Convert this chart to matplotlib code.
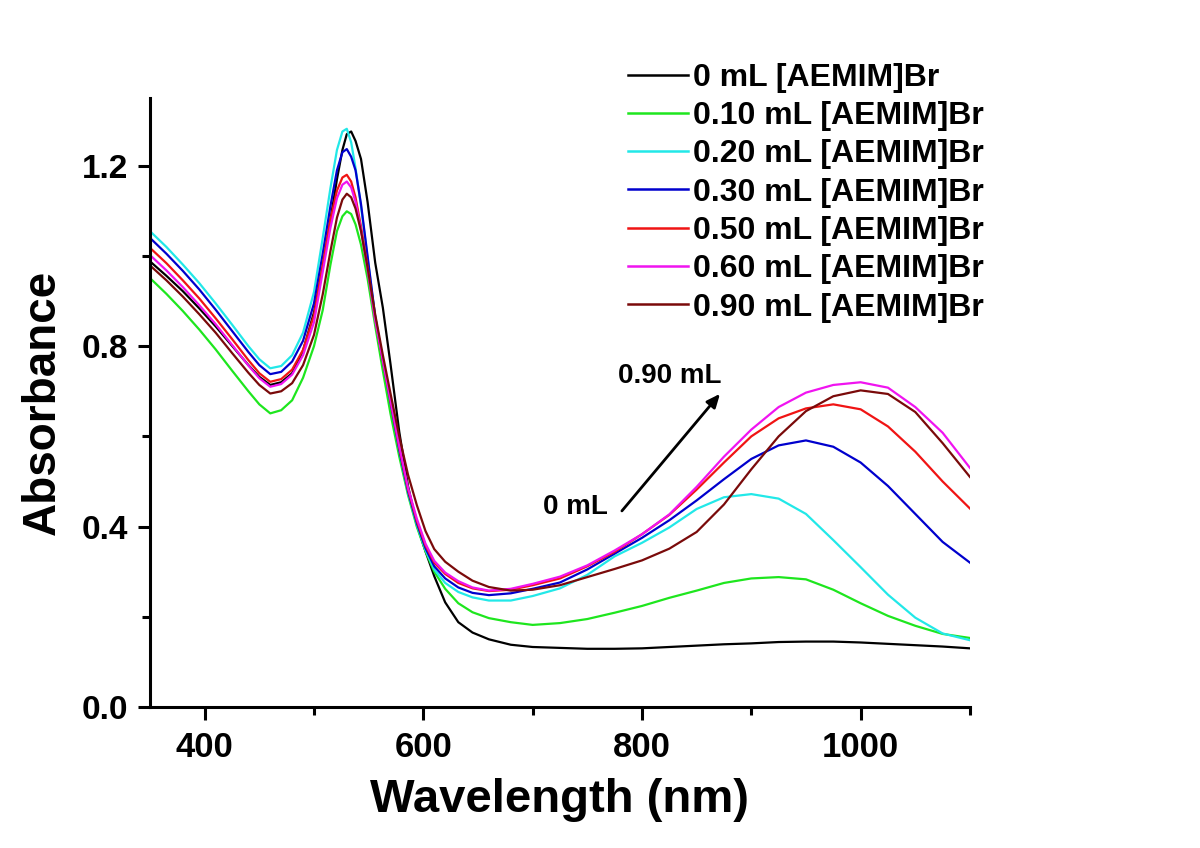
import matplotlib
matplotlib.use("Agg")
import matplotlib.pyplot as plt

# wavelength grid (nm) and absorbance
wl = [350, 365, 380, 395, 410, 425, 440, 450, 460, 470, 480, 490, 500, 508, 515,
      521, 526, 530, 534, 538, 543, 549, 556, 563, 570, 578, 586, 594, 602, 610,
      620, 632, 645, 660, 680, 700, 725, 750, 775, 800, 825, 850, 875, 900, 925,
      950, 975, 1000, 1025, 1050, 1075, 1100]

a_000 = [0.988, 0.956, 0.922, 0.884, 0.844, 0.801, 0.758, 0.732, 0.714, 0.720,
         0.740, 0.790, 0.875, 0.975, 1.080, 1.170, 1.235, 1.270, 1.276, 1.255,
         1.215, 1.120, 0.985, 0.885, 0.760, 0.610, 0.490, 0.405, 0.345, 0.290,
         0.232, 0.188, 0.165, 0.150, 0.138, 0.133, 0.131, 0.129, 0.129, 0.130,
         0.133, 0.136, 0.139, 0.141, 0.144, 0.145, 0.145, 0.143, 0.140, 0.137,
         0.134, 0.130]
a_010 = [0.951, 0.916, 0.878, 0.837, 0.793, 0.746, 0.700, 0.671, 0.651, 0.658,
         0.680, 0.730, 0.800, 0.880, 0.980, 1.055, 1.088, 1.099, 1.093, 1.070,
         1.025, 0.950, 0.845, 0.745, 0.650, 0.555, 0.470, 0.400, 0.345, 0.300,
         0.262, 0.230, 0.210, 0.197, 0.188, 0.182, 0.186, 0.195, 0.209, 0.224,
         0.242, 0.258, 0.275, 0.285, 0.288, 0.283, 0.260, 0.230, 0.202, 0.180,
         0.162, 0.153]
a_020 = [1.055, 1.020, 0.981, 0.940, 0.895, 0.848, 0.800, 0.771, 0.751, 0.756,
         0.780, 0.830, 0.920, 1.040, 1.150, 1.235, 1.276, 1.282, 1.252, 1.195,
         1.110, 0.995, 0.865, 0.770, 0.675, 0.570, 0.475, 0.405, 0.348, 0.305,
         0.275, 0.255, 0.243, 0.236, 0.236, 0.246, 0.263, 0.293, 0.334, 0.364,
         0.398, 0.439, 0.465, 0.472, 0.462, 0.428, 0.370, 0.310, 0.249, 0.198,
         0.163, 0.148]
a_030 = [1.040, 1.005, 0.967, 0.926, 0.881, 0.834, 0.787, 0.758, 0.738, 0.743,
         0.766, 0.812, 0.895, 1.005, 1.110, 1.190, 1.230, 1.237, 1.220, 1.190,
         1.115, 1.000, 0.865, 0.768, 0.675, 0.570, 0.478, 0.408, 0.352, 0.312,
         0.285, 0.265, 0.253, 0.248, 0.252, 0.262, 0.276, 0.305, 0.340, 0.375,
         0.414, 0.458, 0.505, 0.550, 0.580, 0.591, 0.577, 0.542, 0.490, 0.428,
         0.366, 0.320]
a_050 = [1.018, 0.984, 0.946, 0.906, 0.862, 0.816, 0.769, 0.740, 0.721, 0.727,
         0.748, 0.792, 0.868, 0.980, 1.080, 1.145, 1.174, 1.180, 1.165, 1.130,
         1.065, 0.975, 0.860, 0.768, 0.678, 0.575, 0.482, 0.413, 0.358, 0.320,
         0.295, 0.275, 0.263, 0.257, 0.260, 0.270, 0.285, 0.312, 0.344, 0.383,
         0.426, 0.482, 0.542, 0.600, 0.640, 0.662, 0.671, 0.660, 0.622, 0.566,
         0.500, 0.440]
a_060 = [1.002, 0.968, 0.931, 0.891, 0.849, 0.803, 0.757, 0.729, 0.710, 0.716,
         0.737, 0.780, 0.853, 0.965, 1.062, 1.128, 1.158, 1.165, 1.152, 1.120,
         1.058, 0.970, 0.858, 0.768, 0.680, 0.578, 0.486, 0.418, 0.362, 0.324,
         0.298, 0.279, 0.265, 0.258, 0.262, 0.273, 0.289, 0.314, 0.347, 0.383,
         0.427, 0.488, 0.555, 0.615, 0.665, 0.697, 0.714, 0.720, 0.708, 0.665,
         0.608, 0.530]
a_090 = [0.979, 0.946, 0.910, 0.871, 0.830, 0.785, 0.741, 0.714, 0.695, 0.700,
         0.718, 0.758, 0.825, 0.915, 1.010, 1.085, 1.125, 1.138, 1.130, 1.105,
         1.055, 0.975, 0.870, 0.780, 0.695, 0.600, 0.515, 0.448, 0.390, 0.350,
         0.322, 0.300, 0.280, 0.266, 0.258, 0.260, 0.270, 0.288, 0.306, 0.325,
         0.351, 0.388, 0.449, 0.527, 0.600, 0.656, 0.689, 0.702, 0.694, 0.654,
         0.585, 0.510]

labels = ["0 mL [AEMIM]Br", "0.10 mL [AEMIM]Br", "0.20 mL [AEMIM]Br",
          "0.30 mL [AEMIM]Br", "0.50 mL [AEMIM]Br", "0.60 mL [AEMIM]Br",
          "0.90 mL [AEMIM]Br"]
colors = ["#000000", "#1ee61e", "#22e8e8", "#0000cd", "#f01414", "#f014f0",
          "#7a0a0a"]
series = [a_000, a_010, a_020, a_030, a_050, a_060, a_090]

plt.rcParams["font.family"] = ["Liberation Sans", "DejaVu Sans"]
plt.rcParams["font.weight"] = "bold"

fig = plt.figure(figsize=(12, 8.48), dpi=100)
ax = fig.add_axes([0.125, 0.1663, 0.6833, 0.718])

for y, c, lab in zip(series, colors, labels):
    ax.plot(wl, y, color=c, lw=1.6, label=lab)

ax.set_xlim(350, 1100)
ax.set_ylim(0, 1.35)
ax.set_xticks([400, 600, 800, 1000])
ax.set_xticks([500, 700, 900, 1100], minor=True)
ax.set_yticks([0.0, 0.4, 0.8, 1.2])
ax.set_yticks([0.2, 0.6, 1.0], minor=True)
ax.set_yticklabels(["0.0", "0.4", "0.8", "1.2"], fontsize=24, fontweight="bold")
ax.set_xticklabels(["400", "600", "800", "1000"], fontsize=25,
                   fontweight="bold")

for s in ["top", "right"]:
    ax.spines[s].set_visible(False)
for s in ["left", "bottom"]:
    ax.spines[s].set_linewidth(2.2)
ax.tick_params(which="major", direction="out", length=9, width=2.2)
ax.tick_params(which="minor", direction="out", length=6, width=2.2)
ax.tick_params(axis="y", which="major", pad=7)
ax.tick_params(axis="x", which="major", pad=8.5)

ax.set_xlabel("Wavelength (nm)", fontsize=34, fontweight="bold", labelpad=10)
ax.set_ylabel("Absorbance", fontsize=33, fontweight="bold", labelpad=12)

ax.annotate("", xy=(873, 0.699), xytext=(780, 0.430),
            arrowprops=dict(arrowstyle="-|>,head_length=0.8,head_width=0.35",
                            color="black", lw=2))
ax.text(769, 0.444, "0 mL", fontsize=20, fontweight="bold", ha="right",
        va="center")
ax.text(825, 0.734, "0.90 mL", fontsize=20, fontweight="bold", ha="center",
        va="center")

leg = fig.legend(loc="upper left", bbox_to_anchor=(0.523, 0.926), frameon=False,
                 fontsize=23, handlelength=1.9, handletextpad=0.15,
                 labelspacing=0.26, borderpad=0, borderaxespad=0)
for line in leg.get_lines():
    line.set_linewidth(1.8)

fig.savefig("out.png", dpi=100)
